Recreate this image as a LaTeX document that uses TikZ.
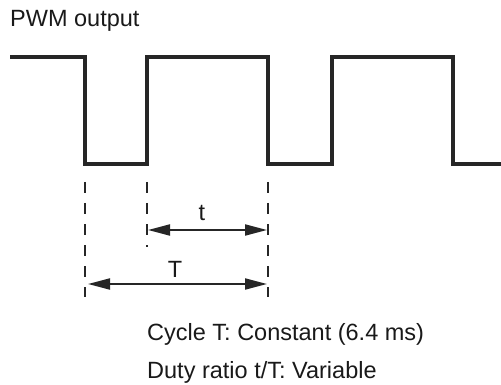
\documentclass[tikz,border=0pt]{standalone}
\usepackage{fontspec}
\setmainfont{Liberation Sans}
\usetikzlibrary{arrows.meta}

\begin{document}
\begin{tikzpicture}[
  x=1pt, y=-1pt,
  font=\fontsize{23.5}{28}\selectfont,
  wave/.style={line width=3.8pt, draw=black!85, line join=miter},
  guide/.style={line width=2pt, draw=black!85, dash pattern=on 11pt off 10pt},
  dim/.style={{Triangle[length=22pt,width=11pt]}-{Triangle[length=22pt,width=11pt]}, line width=2pt, draw=black!85, fill=black!85},
  lbl/.style={inner sep=0pt, text=black!90}
]
\useasboundingbox (0,0) rectangle (501,385);
% corners of the pulse train
\foreach \n/\x/\y in {w0/10/57, w1/85/57, w2/85/164, w3/147/164, w4/147/57, w5/268/57,
                      w6/268/164, w7/332/164, w8/332/57, w9/453/57, w10/453/164, w11/502/164}
  \coordinate (\n) at (\x,\y);
\draw[wave] (w0) -- (w1) -- (w2) -- (w3) -- (w4) -- (w5) -- (w6) -- (w7) -- (w8) -- (w9) -- (w10) -- (w11);
% guide lines
\foreach \n/\x/\yb in {ga/85/297, gb/147/247, gc/268/297} {
  \coordinate (\n top) at (\x,182);
  \coordinate (\n bot) at (\x,\yb);
  \draw[guide] (\n top) -- (\n bot);
}
% dimensions
\coordinate (tl) at (148,230);
\coordinate (tr) at (267,230);
\coordinate (Tl) at (88,284);
\coordinate (Tr) at (267,284);
\draw[dim] (tl) -- (tr);
\draw[dim] (Tl) -- (Tr);
\node[lbl, anchor=base] (tlab) at (202,220) {t};
\node[lbl, anchor=base] (Tlab) at (175,277) {T};
% texts
\node[lbl, anchor=base west] (title) at (10,27) {PWM output};
\node[lbl, anchor=base west] (cyc) at (147,340) {Cycle T: Constant (6.4 ms)};
\node[lbl, anchor=base west] (duty) at (147,378) {Duty ratio t/T: Variable};
\end{tikzpicture}
\end{document}
